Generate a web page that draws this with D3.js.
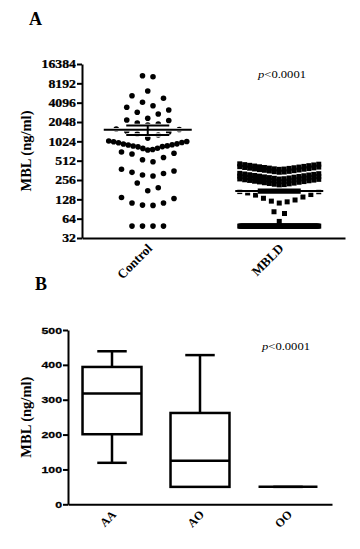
<!DOCTYPE html>
<html><head><meta charset="utf-8">
<script src="https://cdn.jsdelivr.net/npm/d3@7"></script>
<style>body{margin:0;background:#fff}</style>
</head><body><svg id="c" width="360" height="549"></svg>
<script>
// ---------- Panel A data ----------
const groupsA = ["Control", "MBLD"];
const yTicksA = [32, 64, 128, 256, 512, 1024, 2048, 4096, 8192, 16384];
// Control MBL values (ng/ml), grouped in clusters of similar values
const controlRows = [
  [10770, 10390],
  [6220],
  [5260, 4790, 4150, 3670],
  [3470, 2900, 2340, 2730, 3150],
  [2200, 1975, 1840, 1905, 2160],
  [1590, 1480, 1330, 1150, 1285, 1430, 1565],
  [1036, 1010, 975, 930, 900, 866, 848, 800, 750, 765, 795, 840, 870, 905, 935, 980, 1020],
  [697, 650, 573, 493, 530, 667],
  [376, 337, 295, 306, 323, 353],
  [230, 174, 194],
  [137, 112, 104, 103, 112, 132],
  [49, 49, 49, 49]
];
// MBLD MBL values (ng/ml), grouped in clusters of similar values
const mbldRows = [
  [375, 379, 382, 388, 392, 397, 401, 407, 411, 417, 422, 428, 433, 439, 444, 451, 457],
  [338, 341, 345, 349, 354, 358, 363, 367, 372, 377, 381, 386, 391, 396, 401, 407, 413],
  [265, 268, 272, 275, 279, 283, 286, 290, 294, 298, 301, 306, 309, 313, 317, 321, 325],
  [240, 243, 246, 249, 253, 256, 259, 263, 266, 270, 273, 277, 280, 284, 287, 290, 294],
  [214, 217, 220, 223, 226, 229, 232, 236, 239, 242, 245, 249, 252, 255, 258, 262, 266],
  [112, 117, 120, 125, 133, 139, 149, 152, 161, 168, 169],
  [82, 77],
  [58],
  [49, 49, 49, 49, 49, 49, 49, 49, 49, 49, 49, 49, 49, 49, 49, 49, 49, 49, 49, 49,
   49, 49, 49, 49, 49, 49, 49, 49, 49, 49, 49, 49, 49, 49, 49, 49, 49, 49, 49, 49,
   49, 49, 49, 49, 49, 49, 49, 49, 49, 49, 49, 49, 49, 49, 49, 49, 49, 49, 49, 49,
   49, 49, 49, 49, 49, 49, 49, 49, 49, 49, 49, 49, 49, 49, 49, 49, 49, 49, 49, 49,
   49, 49, 49, 49, 49, 49, 49, 49, 49, 49, 49, 49, 49, 49]
];
const pTextA = "<0.0001";

// ---------- Panel B data ----------
const genotypes = ["AA", "AO", "OO"];
const boxMin    = [119, 50, 50];
const boxQ1     = [201, 50, 50];
const boxMedian = [318, 125, 50];
const boxQ3     = [394, 262, 50];
const boxMax    = [439, 428, 50];
const yTicksB = [0, 100, 200, 300, 400, 500];
const pTextB = "<0.0001";

// ---------- drawing ----------
const SERIF = "Liberation Serif";
const SANS = "Liberation Sans";
const svg = d3.select("#c");
svg.append("rect").attr("width", 360).attr("height", 549).attr("fill", "#fff");

function styleYAxis(g, family, size, sx) {
  g.select(".domain").attr("stroke", "#000").attr("stroke-width", 2);
  g.selectAll(".tick line").attr("stroke", "#000").attr("stroke-width", 2);
  g.selectAll(".tick text")
    .attr("font-family", family).attr("font-weight", "bold")
    .attr("font-size", size).attr("fill", "#000")
    .attr("stroke", "#000").attr("stroke-width", 0.25)
    .attr("x", -6 / sx).attr("transform", `scale(${sx},1)`);
}
function styleXAxis(g, size) {
  g.select(".domain").attr("stroke", "#000").attr("stroke-width", 2);
  g.selectAll(".tick line").remove();
  g.selectAll(".tick text")
    .attr("font-family", SERIF).attr("font-weight", "bold")
    .attr("font-size", size).attr("fill", "#000")
    .attr("x", 0).attr("y", 0).attr("dy", "0.35em")
    .attr("text-anchor", "end")
    .attr("transform", "translate(2,8) rotate(-45)");
}
function pLabel(x, y, txt) {
  const sx = 1.2;
  const t = svg.append("text").attr("transform", `scale(${sx},1)`)
    .attr("x", x / sx).attr("y", y)
    .attr("font-family", SERIF).attr("font-size", 10.5).attr("fill", "#000");
  t.append("tspan").attr("font-style", "italic").text("p");
  t.append("tspan").text(txt);
}
function yLabel(x, y) {
  svg.append("text").attr("transform", `translate(${x},${y}) rotate(-90)`)
    .attr("text-anchor", "middle").attr("font-family", SERIF)
    .attr("font-weight", "bold").attr("font-size", 14.5).attr("fill", "#000")
    .text("MBL (ng/ml)");
}

// ===== Panel A =====
const A = { left: 82, right: 345, top: 64, bottom: 238 };
const xA = d3.scaleBand().domain(groupsA).range([A.left, A.right]).padding(0);
const yA = d3.scaleLog().base(2).domain([32, 16384]).range([A.bottom, A.top]);

svg.append("text").attr("x", 29).attr("y", 25).attr("font-family", SERIF)
  .attr("font-weight", "bold").attr("font-size", 18).text("A");

// scatter layout: each cluster in a centred row, smallest value in the centre
function layoutRows(rows, cx, maxW, maxStep) {
  const pts = [];
  rows.forEach(row => {
    const vals = row.slice().sort((a, b) => a - b);
    const n = vals.length;
    const step = n > 1 ? Math.min(maxStep, maxW / (n - 1)) : 0;
    const slots = d3.range(n).map(i => (i - (n - 1) / 2) * step);
    slots.sort((a, b) => (Math.abs(a) - Math.abs(b)) || (b - a));
    vals.forEach((v, i) => pts.push({ v, x: cx + slots[i], y: yA(v) }));
  });
  return pts;
}
const cC = xA("Control") + xA.bandwidth() / 2;
const cM = xA("MBLD") + xA.bandwidth() / 2;
const ctrlPts = layoutRows(controlRows, cC, 78, 10.5);
const mbldPts = layoutRows(mbldRows, cM, 79, 10.5);

svg.append("g").selectAll("circle").data(ctrlPts).join("circle")
  .attr("cx", d => d.x).attr("cy", d => d.y).attr("r", 2.8).attr("fill", "#000");
svg.append("g").selectAll("rect").data(mbldPts).join("rect")
  .attr("x", d => d.x - 2.5).attr("y", d => d.y - 2.5)
  .attr("width", 5).attr("height", 5).attr("fill", "#000");

// mean ± SEM
function meanBar(rows, cx) {
  const vals = rows.flat();
  const m = d3.mean(vals);
  const sem = d3.deviation(vals) / Math.sqrt(vals.length);
  const g = svg.append("g");
  const segs = [
    [cx - 44, yA(m), cx + 44, yA(m)],
    [cx - 21.5, yA(m + sem), cx + 21.5, yA(m + sem)],
    [cx - 21.5, yA(m - sem), cx + 21.5, yA(m - sem)],
    [cx, yA(m + sem), cx, yA(m - sem)]
  ];
  [["#fff", 3.5], ["#000", 2]].forEach(([c, w]) => {
    g.selectAll(null).data(segs).join("line")
      .attr("x1", d => d[0]).attr("y1", d => d[1]).attr("x2", d => d[2]).attr("y2", d => d[3])
      .attr("stroke", c).attr("stroke-width", w);
  });
}
meanBar(controlRows, cC);
meanBar(mbldRows, cM);

const gyA = svg.append("g").attr("transform", `translate(${A.left},0)`)
  .call(d3.axisLeft(yA).tickValues(yTicksA).tickFormat(d3.format("d")).tickSize(5).tickSizeOuter(0));
styleYAxis(gyA, SERIF, 11.5, 1.2);
const gxA = svg.append("g").attr("transform", `translate(0,${A.bottom})`)
  .call(d3.axisBottom(xA).tickSize(0).tickSizeOuter(0));
styleXAxis(gxA, 13);
yLabel(31, (A.top + A.bottom) / 2);
pLabel(258, 78, pTextA);

// ===== Panel B =====
const B = { left: 68, right: 332, top: 330, bottom: 504.3 };
const xB = d3.scaleBand().domain(genotypes).range([B.left, B.right]).padding(0);
const yB = d3.scaleLinear().domain([0, 500]).range([B.bottom, B.top]);

svg.append("text").attr("x", 35).attr("y", 290).attr("font-family", SERIF)
  .attr("font-weight", "bold").attr("font-size", 18).text("B");

const boxes = genotypes.map((g, i) => ({
  g, min: boxMin[i], q1: boxQ1[i], med: boxMedian[i], q3: boxQ3[i], max: boxMax[i]
}));
const bw = xB.bandwidth() * 0.67;
const gb = svg.append("g").attr("stroke", "#000").attr("stroke-width", 2.5).attr("fill", "none");
boxes.forEach(b => {
  const cx = xB(b.g) + xB.bandwidth() / 2;
  const g = gb.append("g");
  g.append("line").attr("x1", cx).attr("x2", cx).attr("y1", yB(b.q3)).attr("y2", yB(b.max));
  g.append("line").attr("x1", cx).attr("x2", cx).attr("y1", yB(b.q1)).attr("y2", yB(b.min));
  g.append("line").attr("x1", cx - bw / 4).attr("x2", cx + bw / 4).attr("y1", yB(b.max)).attr("y2", yB(b.max));
  if (b.min < b.q1)
    g.append("line").attr("x1", cx - bw / 4).attr("x2", cx + bw / 4).attr("y1", yB(b.min)).attr("y2", yB(b.min));
  g.append("rect").attr("x", cx - bw / 2).attr("width", bw)
    .attr("y", yB(b.q3)).attr("height", yB(b.q1) - yB(b.q3)).attr("fill", "#fff");
  g.append("line").attr("x1", cx - bw / 2).attr("x2", cx + bw / 2).attr("y1", yB(b.med)).attr("y2", yB(b.med));
});

const gyB = svg.append("g").attr("transform", `translate(${B.left},0)`)
  .call(d3.axisLeft(yB).tickValues(yTicksB).tickSize(5).tickSizeOuter(0));
styleYAxis(gyB, SANS, 9.5, 1.3);
const gxB = svg.append("g").attr("transform", `translate(0,${B.bottom})`)
  .call(d3.axisBottom(xB).tickSize(0).tickSizeOuter(0));
styleXAxis(gxB, 12);
yLabel(31, (B.top + B.bottom) / 2);
pLabel(262, 350, pTextB);
</script>
</body></html>
